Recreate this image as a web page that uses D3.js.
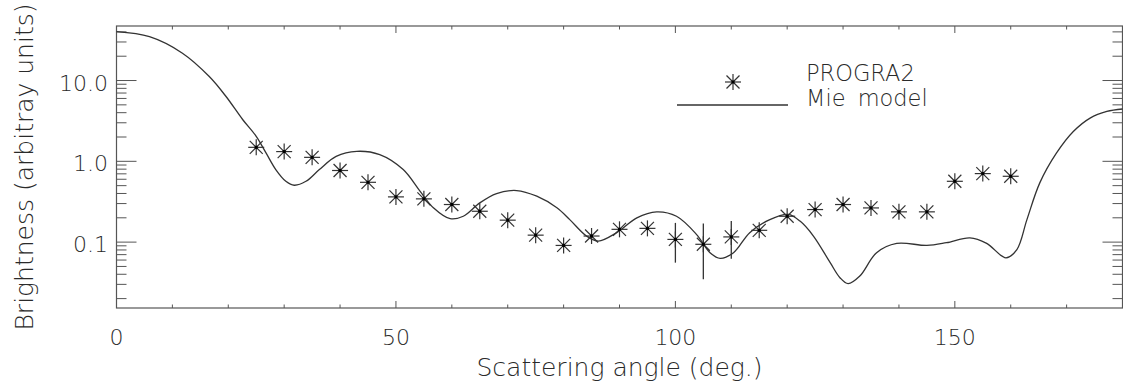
<!DOCTYPE html>
<html>
<head>
<meta charset="utf-8">
<script src="https://cdn.jsdelivr.net/npm/d3@7"></script>
<style>
  html, body { margin: 0; padding: 0; background: #fff; }
  svg { display: block; }
  text { font-family: "DejaVu Sans", sans-serif; font-weight: 200; fill: #2a2a2a; }
</style>
</head>
<body>
<svg id="chart" width="1123" height="387"></svg>
<script>
// ---- Data ----
const obsAngle = [25, 30, 35, 40, 45, 50, 55, 60, 65, 70, 75, 80, 85, 90, 95, 100, 105, 110, 115, 120, 125, 130, 135, 140, 145, 150, 155, 160];
const obsBrightness = [1.49, 1.32, 1.12, 0.77, 0.55, 0.363, 0.343, 0.292, 0.241, 0.187, 0.122, 0.091, 0.119, 0.144, 0.148, 0.108, 0.094, 0.116, 0.140, 0.209, 0.253, 0.292, 0.265, 0.237, 0.237, 0.566, 0.705, 0.653];
const errAngle = [100, 105, 110];
const errLow = [0.0557, 0.0347, 0.0623];
const errHigh = [0.173, 0.170, 0.182];

const mieAngle = [0, 5.9, 11.8, 16.6, 19.6, 22.6, 25.0, 26.75, 28.5, 30.3, 31.8, 33.9, 36.3, 39.3, 43.0, 47.1, 51.3, 54.3, 56.7, 59.7, 62.05, 65.0, 68.0, 71.6, 75.2, 78.8, 81.1, 84.1, 86.2, 89.5, 93.1, 96.65, 100.2, 103.8, 106.2, 108.0, 110.4, 113.3, 116.9, 120.2, 122.3, 124.7, 127.7, 129.45, 130.9, 133.0, 136.0, 139.6, 145.0, 148.5, 152.7, 155.7, 159.15, 161.1, 162.9, 165.2, 168.2, 171.2, 174.2, 177.2, 180];
const mieBrightness = [40.3, 34.9, 21.8, 11.2, 6.34, 3.27, 2.04, 1.27, 0.79, 0.566, 0.506, 0.566, 0.79, 1.15, 1.33, 1.21, 0.79, 0.427, 0.266, 0.195, 0.209, 0.306, 0.399, 0.435, 0.370, 0.266, 0.19, 0.119, 0.103, 0.131, 0.20, 0.237, 0.209, 0.124, 0.074, 0.063, 0.074, 0.131, 0.19, 0.22, 0.182, 0.119, 0.0557, 0.0363, 0.0306, 0.038, 0.074, 0.0964, 0.091, 0.0984, 0.113, 0.0964, 0.064, 0.081, 0.19, 0.541, 1.27, 2.34, 3.43, 4.14, 4.44];

const xMajorTicks = [0, 50, 100, 150];
const xMinorTicks = [10, 20, 30, 40, 60, 70, 80, 90, 110, 120, 130, 140, 160, 170];
const yMajorTicks = [0.1, 1, 10];
const yMajorLabels = ["0.1", "1.0", "10.0"];
const yMinorTicks = [0.02, 0.03, 0.04, 0.05, 0.06, 0.07, 0.08, 0.09, 0.2, 0.3, 0.4, 0.5, 0.6, 0.7, 0.8, 0.9, 2, 3, 4, 5, 6, 7, 8, 9, 20, 30, 40];

const legendLabels = ["PROGRA2", "Mie model"];
const xTitle = "Scattering angle (deg.)";
const yTitle = "Brightness (arbitray units)";

// ---- Layout ----
const L = 116.5, R = 1122.5, T = 26, B = 308;
const svg = d3.select("#chart");
const x = d3.scaleLinear().domain([0, 180]).range([L, R]);
const y = d3.scaleLog().domain([0.0153, 47.3]).range([B, T]);

const axisColor = "#555";
const g = svg.append("g");

// Ticks
function xTicks(vals, len) {
  vals.forEach(v => {
    g.append("line").attr("x1", x(v)).attr("x2", x(v)).attr("y1", B).attr("y2", B - len)
      .attr("stroke", axisColor).attr("stroke-width", 1);
    g.append("line").attr("x1", x(v)).attr("x2", x(v)).attr("y1", T).attr("y2", T + len)
      .attr("stroke", axisColor).attr("stroke-width", 1);
  });
}
function yTicks(vals, len) {
  vals.forEach(v => {
    g.append("line").attr("x1", L).attr("x2", L + len).attr("y1", y(v)).attr("y2", y(v))
      .attr("stroke", axisColor).attr("stroke-width", 1);
    g.append("line").attr("x1", R).attr("x2", R - len).attr("y1", y(v)).attr("y2", y(v))
      .attr("stroke", axisColor).attr("stroke-width", 1);
  });
}
xTicks(xMajorTicks, 7);
xTicks(xMinorTicks, 3.5);
yTicks(yMajorTicks, 20);
yTicks(yMinorTicks, 10);

// Frame
g.append("rect").attr("x", L).attr("y", T).attr("width", R - L).attr("height", B - T)
  .attr("fill", "none").attr("stroke", axisColor).attr("stroke-width", 1.2);

// Tick labels
xMajorTicks.forEach(v => {
  g.append("text").attr("x", x(v)).attr("y", 345).attr("text-anchor", "middle")
    .attr("font-size", 22).text(String(v));
});
yMajorTicks.forEach((v, i) => {
  g.append("text").attr("x", 108).attr("y", y(v) + 10).attr("text-anchor", "end")
    .attr("font-size", 22).text(yMajorLabels[i]);
});

// Titles
g.append("text").attr("x", (L + R) / 2).attr("y", 376).attr("text-anchor", "middle")
  .attr("font-size", 25).text(xTitle);
g.append("text").attr("transform", `translate(33,${(T + B) / 2}) rotate(-90)`)
  .attr("text-anchor", "middle").attr("font-size", 25).text(yTitle);

// Mie curve
const mie = mieAngle.map((a, i) => [a, mieBrightness[i]]);
const line = d3.line().x(d => x(d[0])).y(d => y(d[1])).curve(d3.curveCatmullRom.alpha(0.5));
g.append("path").datum(mie).attr("d", line).attr("fill", "none")
  .attr("stroke", "#333").attr("stroke-width", 1.3);

// Error bars
errAngle.forEach((a, i) => {
  g.append("line").attr("x1", x(a)).attr("x2", x(a)).attr("y1", y(errLow[i])).attr("y2", y(errHigh[i]))
    .attr("stroke", "#333").attr("stroke-width", 1.3);
});

// Asterisk symbol
function asterisk(cx, cy) {
  const s = 8, d = 6.5;
  const a = g.append("g").attr("transform", `translate(${cx},${cy})`)
    .attr("stroke", "#333").attr("stroke-width", 1.2);
  a.append("line").attr("x1", 0).attr("y1", -s).attr("x2", 0).attr("y2", s);
  a.append("line").attr("x1", -d).attr("y1", -d).attr("x2", d).attr("y2", d);
  a.append("line").attr("x1", -d).attr("y1", d).attr("x2", d).attr("y2", -d);
  a.append("line").attr("x1", -s).attr("y1", 0).attr("x2", s).attr("y2", 0);
  a.append("rect").attr("x", -1.5).attr("y", -1.5).attr("width", 3).attr("height", 3)
    .attr("fill", "#000").attr("stroke", "none");
}
obsAngle.forEach((a, i) => asterisk(x(a), y(obsBrightness[i])));

// Legend
asterisk(733, 82);
g.append("line").attr("x1", 677).attr("x2", 788).attr("y1", 105).attr("y2", 105)
  .attr("stroke", "#333").attr("stroke-width", 1.3);
g.append("text").attr("x", 806).attr("y", 81).attr("font-size", 22.5).text(legendLabels[0]);
g.append("text").attr("x", 806).attr("y", 106).attr("font-size", 22.5)
  .attr("word-spacing", 5).text(legendLabels[1]);
</script>
</body>
</html>
